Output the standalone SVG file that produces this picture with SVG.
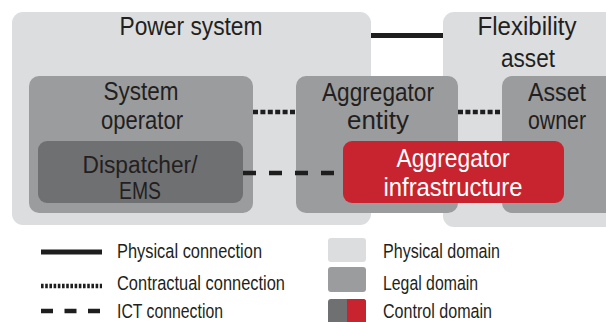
<svg xmlns="http://www.w3.org/2000/svg" width="606" height="322" viewBox="0 0 606 322">
<style>
text{font-family:"Liberation Sans",Arial,sans-serif;fill:#231f20;text-anchor:middle}
.t{font-size:26px}
.s{font-size:23px}
.w{fill:#ffffff}
.lg{font-size:20.5px;text-anchor:start}
.phys{fill:#dcdddf}
.legal{fill:#9b9c9e}
.ctrl{fill:#6f7072}
.red{fill:#c8242f}
.solid{stroke:#1e1e1e;stroke-width:5;fill:none}
.dot{stroke:#1e1e1e;stroke-width:4.5;stroke-dasharray:5 2.4;fill:none}
.dash{stroke:#1e1e1e;stroke-width:4.5;stroke-dasharray:13 13;fill:none}
</style>
<rect width="606" height="322" fill="#ffffff"/>
<g id="power-system">
<rect class="phys" x="12" y="12" width="359" height="213" rx="11"/>
<text class="t" x="191" y="35" textLength="143" lengthAdjust="spacingAndGlyphs">Power system</text>
</g>
<g id="flexibility-asset">
<rect class="phys" x="443" y="12" width="180" height="215" rx="11"/>
<text class="t" x="527" y="35" textLength="99" lengthAdjust="spacingAndGlyphs">Flexibility</text>
<text class="t" x="528" y="67" textLength="54" lengthAdjust="spacingAndGlyphs">asset</text>
</g>
<g id="system-operator">
<rect class="legal" x="29" y="76" width="224" height="137" rx="10"/>
<text class="t" x="141" y="100" textLength="75" lengthAdjust="spacingAndGlyphs">System</text>
<text class="t" x="142" y="129" textLength="82" lengthAdjust="spacingAndGlyphs">operator</text>
</g>
<g id="dispatcher">
<rect class="ctrl" x="38" y="141" width="205" height="62" rx="9"/>
<text class="s" x="140" y="173" textLength="115" lengthAdjust="spacingAndGlyphs">Dispatcher/</text>
<text class="s" x="140" y="199" textLength="42" lengthAdjust="spacingAndGlyphs">EMS</text>
</g>
<g id="aggregator-entity">
<rect class="legal" x="296" y="76" width="162" height="137" rx="10"/>
<text class="t" x="378" y="101" textLength="112" lengthAdjust="spacingAndGlyphs">Aggregator</text>
<text class="t" x="378" y="129" textLength="62" lengthAdjust="spacingAndGlyphs">entity</text>
</g>
<g id="asset-owner">
<rect class="legal" x="502" y="76" width="120" height="137" rx="10"/>
<text class="t" x="557" y="101" textLength="58" lengthAdjust="spacingAndGlyphs">Asset</text>
<text class="t" x="557" y="129" textLength="58" lengthAdjust="spacingAndGlyphs">owner</text>
</g>
<g id="aggregator-infrastructure">
<rect class="red" x="343" y="141" width="221" height="62" rx="9"/>
<text class="t w" x="453" y="167" textLength="113" lengthAdjust="spacingAndGlyphs">Aggregator</text>
<text class="t w" x="453" y="196" textLength="139" lengthAdjust="spacingAndGlyphs">infrastructure</text>
</g>
<g id="connectors">
<line class="solid" x1="371" y1="35.5" x2="443" y2="35.5"/>
<line class="dot" x1="253" y1="112" x2="296" y2="112"/>
<line class="dot" x1="458" y1="112" x2="502" y2="112"/>
<line class="dash" x1="243" y1="173" x2="343" y2="173"/>
</g>
<g id="legend">
<line class="solid" x1="41" y1="252" x2="102" y2="252" stroke-width="4"/>
<line class="dot" x1="41" y1="286" x2="102" y2="286" stroke-width="4" style="stroke-dasharray:2.6 1.6"/>
<line class="dash" x1="41" y1="311" x2="102" y2="311" stroke-width="4" style="stroke-dasharray:12 11.5"/>
<text class="lg" x="117" y="258" textLength="145" lengthAdjust="spacingAndGlyphs">Physical connection</text>
<text class="lg" x="117" y="290" textLength="168" lengthAdjust="spacingAndGlyphs">Contractual connection</text>
<text class="lg" x="117" y="318" textLength="106" lengthAdjust="spacingAndGlyphs">ICT connection</text>
<rect class="phys" x="328" y="238" width="38" height="24" rx="3"/>
<rect class="legal" x="328" y="267" width="38" height="25" rx="3"/>
<rect class="ctrl" x="328" y="299" width="38" height="30" rx="3"/>
<rect class="red" x="347" y="299" width="19" height="30" rx="3"/>
<rect class="red" x="347" y="299" width="6" height="30"/>
<text class="lg" x="383" y="258" textLength="117" lengthAdjust="spacingAndGlyphs">Physical domain</text>
<text class="lg" x="383" y="290" textLength="95" lengthAdjust="spacingAndGlyphs">Legal domain</text>
<text class="lg" x="383" y="318" textLength="109" lengthAdjust="spacingAndGlyphs">Control domain</text>
</g>
</svg>
